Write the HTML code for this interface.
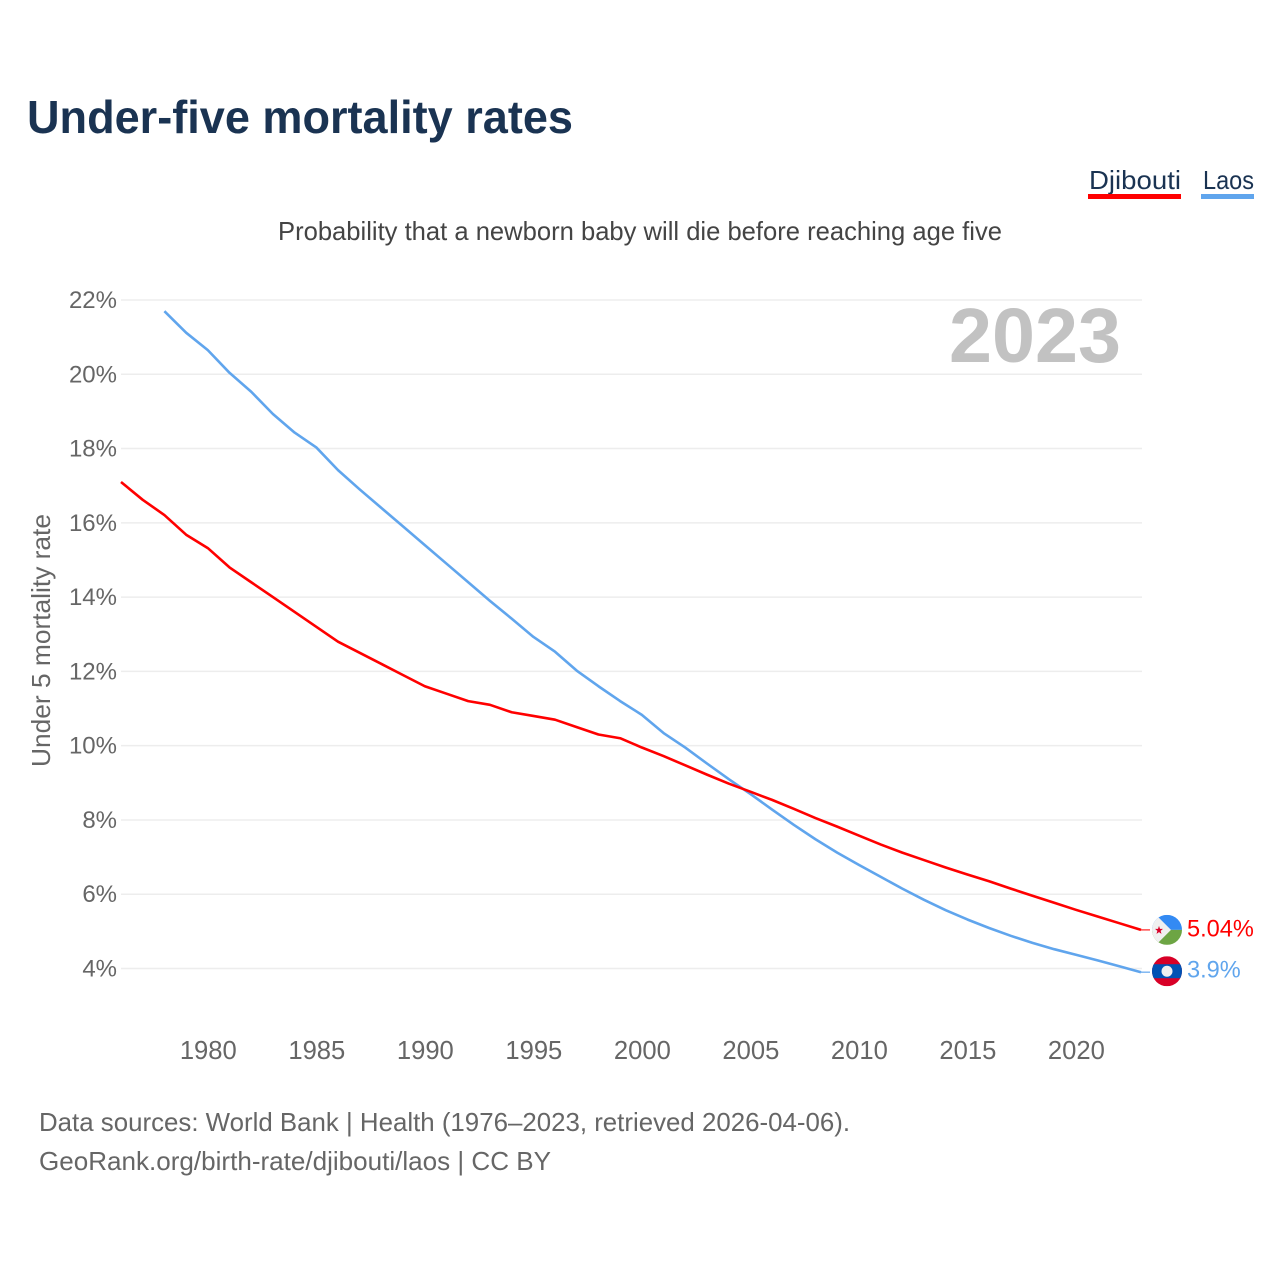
<!DOCTYPE html>
<html lang="en">
<head>
<meta charset="utf-8">
<title>Under-five mortality rates</title>
<style>
html,body{margin:0;padding:0;background:#fff;}
svg{display:block;font-family:"Liberation Sans","DejaVu Sans",sans-serif;}
</style>
</head>
<body>
<svg id="chart" xmlns="http://www.w3.org/2000/svg" width="1280" height="1280" viewBox="0 0 1280 1280">
  <rect x="0" y="0" width="1280" height="1280" fill="#ffffff"/>
  <text x="27" y="133" font-size="46" font-weight="700" fill="#1a3352" textLength="546" lengthAdjust="spacingAndGlyphs">Under-five mortality rates</text>
  <g>
    <g>
      <text x="1089" y="189" font-size="26" fill="#1a3352" textLength="92" lengthAdjust="spacingAndGlyphs">Djibouti</text>
      <rect x="1088" y="194" width="93" height="5" fill="#ff0000"/>
    </g>
    <g>
      <text x="1203" y="189" font-size="26" fill="#1a3352" textLength="51" lengthAdjust="spacingAndGlyphs">Laos</text>
      <rect x="1201" y="194" width="53" height="5" fill="#60a5ed"/>
    </g>
  </g>
  <text x="278" y="240" font-size="26" fill="#444444" textLength="724" lengthAdjust="spacingAndGlyphs">Probability that a newborn baby will die before reaching age five</text>
  <g id="grid"></g>
  <g id="y-ticks"></g>
  <g id="x-ticks"></g>
  <text x="949" y="362" font-size="77" font-weight="700" fill="#c2c2c2" textLength="172" lengthAdjust="spacingAndGlyphs">2023</text>
  <text transform="translate(50 767) rotate(-90)" x="0" y="0" font-size="26" fill="#666666" textLength="253" lengthAdjust="spacingAndGlyphs">Under 5 mortality rate</text>
  <g id="series"></g>
  <defs>
    <clipPath id="clip-djibouti"><circle cx="0" cy="0" r="15"/></clipPath>
    <clipPath id="clip-laos"><circle cx="0" cy="0" r="15"/></clipPath>
  </defs>
  <g id="flag-djibouti">
    <g clip-path="url(#clip-djibouti)">
      <rect x="-15" y="-15" width="30" height="15" fill="#338af3"/>
      <rect x="-15" y="0" width="30" height="15" fill="#6da544"/>
      <polygon points="-15,-15 -11,-15 4,0 -11,15 -15,15" fill="#f0f0f0"/>
      <polygon points="-8,-4 -7,-1 -4,-1 -6.4,1 -5.5,4 -8,2.2 -10.5,4 -9.6,1 -12,-1 -9,-1" fill="#d80027"/>
    </g>
  </g>
  <g id="flag-laos">
    <g clip-path="url(#clip-laos)">
      <rect x="-15" y="-15" width="30" height="30" fill="#d80027"/>
      <rect x="-15" y="-7" width="30" height="14" fill="#0052b4"/>
      <circle cx="0" cy="0" r="5.5" fill="#f0f0f0"/>
    </g>
  </g>
  <text id="value-djibouti" x="1187" font-size="23.6" fill="#ff0000"></text>
  <text id="value-laos" x="1187" font-size="23.6" fill="#60a5ed"></text>
  <text x="39" y="1131" font-size="26" fill="#666666" textLength="811" lengthAdjust="spacingAndGlyphs">Data sources: World Bank | Health (1976–2023, retrieved 2026-04-06).</text>
  <text x="39" y="1170" font-size="26" fill="#666666" textLength="512" lengthAdjust="spacingAndGlyphs">GeoRank.org/birth-rate/djibouti/laos | CC BY</text>
</svg>
<script>
const years = [1976,1977,1978,1979,1980,1981,1982,1983,1984,1985,1986,1987,1988,1989,1990,1991,1992,1993,1994,1995,1996,1997,1998,1999,2000,2001,2002,2003,2004,2005,2006,2007,2008,2009,2010,2011,2012,2013,2014,2015,2016,2017,2018,2019,2020,2021,2022,2023];
const djiboutiValues = [17.1,16.62,16.21,15.68,15.32,14.8,14.4,14.0,13.6,13.2,12.8,12.5,12.2,11.9,11.6,11.4,11.2,11.1,10.9,10.8,10.7,10.5,10.3,10.2,9.95,9.72,9.47,9.22,8.98,8.76,8.54,8.3,8.05,7.82,7.58,7.34,7.12,6.92,6.72,6.53,6.35,6.15,5.96,5.77,5.58,5.4,5.22,5.04];
const laosValues = [null,null,21.7,21.12,20.65,20.04,19.53,18.93,18.43,18.03,17.42,16.9,16.4,15.9,15.4,14.9,14.4,13.9,13.42,12.93,12.53,12.02,11.6,11.2,10.83,10.34,9.95,9.52,9.1,8.7,8.28,7.87,7.48,7.12,6.79,6.47,6.15,5.85,5.57,5.32,5.09,4.88,4.69,4.52,4.37,4.22,4.06,3.9];
const yTickValues = [4,6,8,10,12,14,16,18,20,22];
const xTickYears = [1980,1985,1990,1995,2000,2005,2010,2015,2020];
const djiboutiValueLabel = "5.04%";
const laosValueLabel = "3.9%";

const NS = "http://www.w3.org/2000/svg";
function xScale(year){ return 121 + (year - 1976) * (1141 - 121) / 47; }
function yScale(value){ return 968.5 - (value - 4) * (968.5 - 300) / 18; }
function make(tag, parent, attrs, text){
  const el = document.createElementNS(NS, tag);
  for (const k in attrs) el.setAttribute(k, attrs[k]);
  if (text !== undefined) el.textContent = text;
  parent.appendChild(el);
  return el;
}
const gridGroup = document.getElementById("grid");
const yTickGroup = document.getElementById("y-ticks");
const xTickGroup = document.getElementById("x-ticks");
const seriesGroup = document.getElementById("series");

yTickValues.forEach(function(v){
  const line = make("line", gridGroup, {x1:121, x2:1142, y1:yScale(v), y2:yScale(v), stroke:"#ededed", "stroke-width":1.5});
  
  
  const label = make("text", yTickGroup, {x:117, y:yScale(v)+8, "text-anchor":"end", "font-size":24, fill:"#666666"}, v + "%");
  
  
});
xTickYears.forEach(function(yr){
  const label = make("text", xTickGroup, {x:xScale(yr)+0.5, y:1059, "text-anchor":"middle", "font-size":25.6, fill:"#666666"}, String(yr));
  
  
});

function linePath(values){
  let d = "";
  values.forEach(function(v, i){
    if (v === null) return;
    d += (d ? "L" : "M") + xScale(years[i]).toFixed(2) + " " + yScale(v).toFixed(2);
  });
  return d;
}
const lastDjibouti = djiboutiValues[djiboutiValues.length - 1];
const lastLaos = laosValues[laosValues.length - 1];
const lineLaos = make("path", seriesGroup, {d:linePath(laosValues), fill:"none", stroke:"#60a5ed", "stroke-width":2.6, "stroke-linejoin":"round"});


const lineDjibouti = make("path", seriesGroup, {d:linePath(djiboutiValues), fill:"none", stroke:"#ff0000", "stroke-width":2.6, "stroke-linejoin":"round"});


const connectorDjibouti = make("line", seriesGroup, {x1:1141, x2:1150, y1:yScale(lastDjibouti), y2:yScale(lastDjibouti), stroke:"#ff0000", "stroke-opacity":0.7, "stroke-width":1.5});


const connectorLaos = make("line", seriesGroup, {x1:1141, x2:1150, y1:yScale(lastLaos), y2:yScale(lastLaos), stroke:"#60a5ed", "stroke-opacity":0.8, "stroke-width":1.5});



document.getElementById("flag-djibouti").setAttribute("transform", "translate(1167 " + yScale(lastDjibouti) + ")");
document.getElementById("flag-laos").setAttribute("transform", "translate(1167 " + (yScale(lastLaos) - 1) + ")");
const valueDjibouti = document.getElementById("value-djibouti");
valueDjibouti.setAttribute("y", yScale(lastDjibouti) + 6.5);
valueDjibouti.textContent = djiboutiValueLabel;
const valueLaos = document.getElementById("value-laos");
valueLaos.setAttribute("y", yScale(lastLaos) + 5.5);
valueLaos.textContent = laosValueLabel;
</script>
</body>
</html>
